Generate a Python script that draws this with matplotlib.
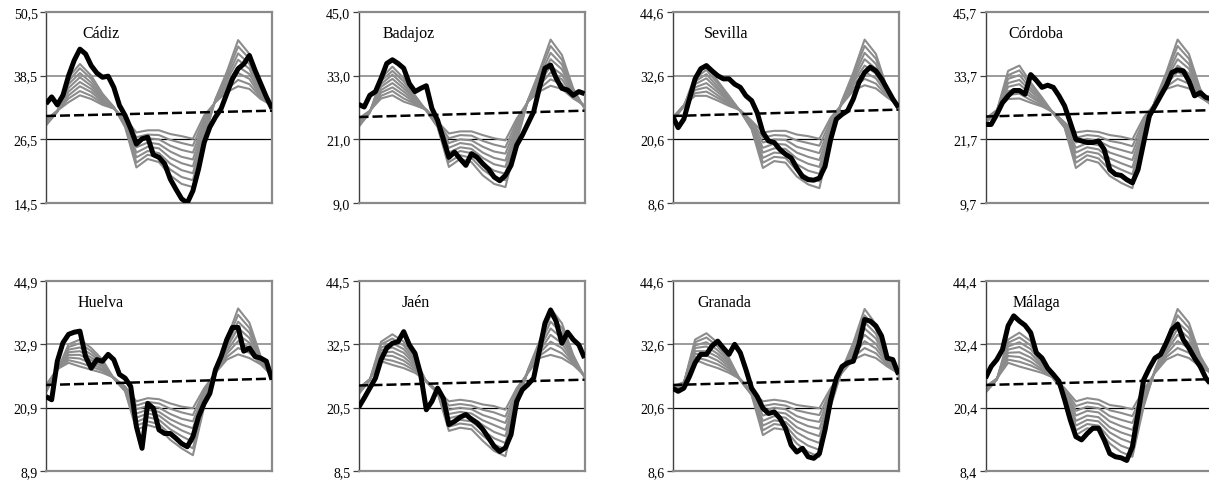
import numpy as np
import matplotlib
matplotlib.use("Agg")
from matplotlib import pyplot as plt

plt.rcParams['font.family'] = ['Liberation Serif', 'DejaVu Serif']

# panel names, in reading order
names = ['Cádiz', 'Badajoz', 'Sevilla', 'Córdoba', 'Huelva', 'Jaén', 'Granada', 'Málaga']

# y tick labels of each panel
cadiz_ticks = [14.5, 26.5, 38.5, 50.5]
badajoz_ticks = [9.0, 21.0, 33.0, 45.0]
sevilla_ticks = [8.6, 20.6, 32.6, 44.6]
cordoba_ticks = [9.7, 21.7, 33.7, 45.7]
huelva_ticks = [8.9, 20.9, 32.9, 44.9]
jaen_ticks = [8.5, 20.5, 32.5, 44.5]
granada_ticks = [8.6, 20.6, 32.6, 44.6]
malaga_ticks = [8.4, 20.4, 32.4, 44.4]

# observed series (thick black line), 41 points
cadiz_obs = [33.2, 34.5, 33.0, 34.8, 38.5, 41.4, 43.5, 42.6, 40.4, 39.0, 38.2, 38.4, 36.3, 32.9,
             31.0, 28.5, 25.6, 26.6, 26.9, 23.6, 23.1, 21.9, 19.0, 17.1, 15.3, 14.5, 16.8, 20.9,
             25.9, 28.8, 30.7, 32.3, 35.1, 37.9, 39.8, 40.7, 42.3, 39.5, 37.0, 34.5, 32.3]
badajoz_obs = [27.6, 27.1, 29.3, 30.0, 32.5, 35.3, 36.0, 35.3, 34.4, 31.5, 30.0, 30.6, 31.1, 26.8,
               24.6, 21.1, 17.6, 18.6, 17.3, 16.1, 18.3, 17.6, 16.4, 15.4, 13.9, 13.2, 14.2, 16.1,
               19.9, 21.8, 24.0, 26.2, 30.6, 34.4, 35.0, 32.5, 30.6, 30.3, 29.3, 30.0, 29.6]
sevilla_obs = [25.0, 22.8, 24.4, 28.2, 32.0, 33.9, 34.5, 33.5, 32.6, 32.0, 32.0, 31.0, 30.4, 28.8,
               27.9, 25.6, 21.9, 20.3, 20.0, 18.7, 17.8, 17.1, 15.2, 13.6, 13.0, 12.9, 13.3, 15.5,
               20.6, 24.4, 25.3, 26.0, 28.2, 31.3, 33.2, 34.2, 33.5, 32.0, 30.1, 28.2, 26.6]
cordoba_obs = [24.5, 24.5, 26.4, 28.6, 29.9, 30.9, 30.9, 30.2, 33.9, 32.8, 31.5, 31.9, 31.5, 29.9,
               28.0, 24.9, 21.7, 21.4, 21.1, 21.1, 21.4, 19.8, 16.0, 15.1, 14.9, 14.1, 13.5, 16.0,
               21.1, 26.1, 28.0, 29.9, 31.8, 34.3, 34.8, 34.6, 32.7, 29.9, 30.5, 29.6, 29.3]
huelva_obs = [23.0, 22.4, 29.7, 33.2, 34.8, 35.2, 35.4, 30.6, 28.4, 30.0, 29.7, 31.0, 30.0, 27.2,
              26.5, 24.9, 17.3, 13.2, 21.7, 20.8, 16.7, 16.0, 16.0, 15.1, 14.1, 13.5, 15.4, 19.2,
              21.7, 23.6, 28.1, 30.6, 33.8, 36.1, 36.1, 31.6, 32.2, 30.6, 30.3, 29.7, 26.2]
jaen_obs = [20.5, 22.3, 24.2, 26.1, 29.6, 31.8, 32.7, 33.0, 34.9, 32.4, 30.8, 26.8, 20.1, 21.7,
            24.2, 22.3, 17.3, 17.9, 18.7, 19.2, 18.3, 17.6, 16.4, 14.8, 13.2, 12.2, 12.9, 15.4,
            21.7, 23.9, 24.9, 26.1, 31.2, 36.5, 39.0, 36.8, 32.7, 34.8, 33.4, 32.4, 29.9]
granada_obs = [24.3, 23.7, 24.3, 26.5, 29.1, 30.7, 30.7, 32.3, 33.2, 31.9, 30.7, 32.6, 31.0, 27.8,
               24.3, 22.7, 20.5, 19.5, 19.8, 18.6, 16.7, 13.5, 12.2, 12.9, 11.3, 11.0, 11.9, 16.4,
               22.1, 26.2, 28.4, 29.1, 29.4, 32.6, 37.3, 37.0, 36.1, 34.2, 30.0, 29.7, 26.9]
malaga_obs = [26.0, 28.2, 29.5, 31.4, 35.9, 37.8, 36.8, 36.0, 34.6, 30.8, 29.8, 27.9, 26.7, 25.4,
              21.9, 18.1, 14.9, 14.3, 15.5, 16.5, 16.5, 14.3, 11.7, 11.1, 10.9, 10.4, 13.0, 19.3,
              25.7, 27.9, 29.8, 30.5, 32.7, 35.2, 36.2, 33.3, 31.7, 29.8, 28.2, 26.0, 24.7]

# linear trend (dashed), start and end values
cadiz_trend = [30.9, 31.9]
badajoz_trend = [25.2, 26.4]
sevilla_trend = [25.0, 26.2]
cordoba_trend = [26.0, 27.2]
huelva_trend = [25.2, 26.4]
jaen_trend = [24.7, 25.8]
granada_trend = [24.9, 26.1]
malaga_trend = [24.7, 25.8]

# grey family of curves: one row per time point (every 2nd step), 8 curves per row
cadiz_gray = [
    [30.2, 30.0, 29.9, 29.7, 29.6, 29.4, 29.3, 29.1],
    [31.9, 31.9, 31.8, 31.8, 31.8, 31.8, 31.7, 31.7],
    [33.5, 34.2, 34.8, 35.5, 36.2, 36.9, 37.5, 38.2],
    [34.8, 35.6, 36.5, 37.3, 38.2, 39.0, 39.9, 40.7],
    [34.1, 34.7, 35.4, 36.0, 36.6, 37.2, 37.9, 38.5],
    [33.0, 33.3, 33.6, 33.9, 34.2, 34.5, 34.8, 35.1],
    [32.3, 32.3, 32.4, 32.4, 32.5, 32.5, 32.6, 32.6],
    [30.4, 30.2, 29.9, 29.7, 29.5, 29.3, 29.0, 28.8],
    [27.8, 26.9, 25.9, 25.0, 24.0, 23.1, 22.1, 21.2],
    [28.2, 27.4, 26.7, 25.9, 25.1, 24.3, 23.6, 22.8],
    [28.2, 27.3, 26.5, 25.6, 24.8, 23.9, 23.1, 22.2],
    [27.5, 26.4, 25.3, 24.2, 23.0, 21.9, 20.8, 19.7],
    [27.1, 25.8, 24.5, 23.2, 22.0, 20.7, 19.4, 18.1],
    [26.6, 25.3, 24.0, 22.7, 21.4, 20.1, 18.8, 17.5],
    [31.0, 30.4, 29.7, 29.1, 28.5, 27.9, 27.2, 26.6],
    [33.5, 33.6, 33.7, 33.8, 33.8, 33.9, 34.0, 34.1],
    [35.4, 35.9, 36.5, 37.0, 37.6, 38.1, 38.7, 39.2],
    [36.5, 37.7, 39.0, 40.2, 41.5, 42.7, 44.0, 45.2],
    [36.0, 36.9, 37.9, 38.8, 39.8, 40.7, 41.7, 42.6],
    [34.1, 34.4, 34.6, 34.9, 35.2, 35.5, 35.7, 36.0],
    [32.9, 32.8, 32.7, 32.6, 32.6, 32.5, 32.4, 32.3],
]
badajoz_gray = [
    [24.9, 24.7, 24.4, 24.2, 24.0, 23.8, 23.5, 23.3],
    [26.4, 26.3, 26.3, 26.2, 26.2, 26.1, 26.1, 26.0],
    [28.7, 29.2, 29.8, 30.3, 30.9, 31.4, 32.0, 32.5],
    [29.3, 30.1, 30.8, 31.6, 32.4, 33.2, 33.9, 34.7],
    [28.1, 28.7, 29.4, 30.0, 30.6, 31.2, 31.9, 32.5],
    [27.4, 27.7, 27.9, 28.2, 28.5, 28.8, 29.0, 29.3],
    [26.6, 26.6, 26.5, 26.5, 26.5, 26.5, 26.4, 26.4],
    [24.3, 24.2, 24.0, 23.9, 23.7, 23.6, 23.4, 23.3],
    [22.1, 21.2, 20.3, 19.4, 18.5, 17.6, 16.7, 15.8],
    [22.5, 21.8, 21.0, 20.3, 19.5, 18.8, 18.0, 17.3],
    [22.5, 21.7, 20.8, 20.0, 19.2, 18.4, 17.5, 16.7],
    [21.8, 20.7, 19.6, 18.5, 17.5, 16.4, 15.3, 14.2],
    [21.2, 20.0, 18.7, 17.5, 16.3, 15.1, 13.8, 12.6],
    [20.8, 19.5, 18.3, 17.0, 15.8, 14.5, 13.3, 12.0],
    [24.9, 24.3, 23.6, 23.0, 22.4, 21.8, 21.1, 20.5],
    [28.1, 28.1, 28.2, 28.2, 28.3, 28.3, 28.4, 28.4],
    [30.0, 30.5, 31.1, 31.6, 32.2, 32.7, 33.3, 33.8],
    [31.1, 32.3, 33.6, 34.8, 36.1, 37.3, 38.6, 39.8],
    [30.5, 31.4, 32.3, 33.2, 34.2, 35.1, 36.0, 36.9],
    [28.7, 29.0, 29.2, 29.5, 29.8, 30.1, 30.3, 30.6],
    [27.4, 27.3, 27.2, 27.1, 27.1, 27.0, 26.9, 26.8],
]
sevilla_gray = [
    [24.7, 24.6, 24.5, 24.4, 24.4, 24.3, 24.2, 24.1],
    [27.0, 27.0, 26.9, 26.9, 26.9, 26.9, 26.8, 26.8],
    [28.8, 29.3, 29.9, 30.4, 31.0, 31.5, 32.1, 32.6],
    [28.8, 29.6, 30.4, 31.2, 32.1, 32.9, 33.7, 34.5],
    [27.9, 28.4, 28.9, 29.5, 30.0, 30.5, 31.1, 31.6],
    [26.9, 27.2, 27.4, 27.7, 28.0, 28.3, 28.5, 28.8],
    [26.1, 26.1, 26.0, 26.0, 26.0, 26.0, 25.9, 25.9],
    [24.1, 23.9, 23.6, 23.4, 23.2, 23.0, 22.7, 22.5],
    [21.9, 20.9, 20.0, 19.0, 18.1, 17.1, 16.2, 15.2],
    [22.2, 21.4, 20.6, 19.8, 18.9, 18.1, 17.3, 16.5],
    [22.2, 21.3, 20.5, 19.6, 18.8, 17.9, 17.1, 16.2],
    [21.5, 20.4, 19.2, 18.1, 17.0, 15.9, 14.7, 13.6],
    [21.2, 19.9, 18.6, 17.3, 16.0, 14.7, 13.4, 12.1],
    [20.7, 19.4, 18.0, 16.7, 15.4, 14.1, 12.7, 11.4],
    [24.7, 24.1, 23.5, 22.9, 22.4, 21.8, 21.2, 20.6],
    [27.2, 27.3, 27.4, 27.5, 27.6, 27.7, 27.8, 27.9],
    [29.8, 30.3, 30.8, 31.3, 31.7, 32.2, 32.7, 33.2],
    [30.8, 32.0, 33.3, 34.5, 35.7, 36.9, 38.2, 39.4],
    [30.2, 31.1, 32.1, 33.0, 33.9, 34.8, 35.8, 36.7],
    [28.5, 28.7, 29.0, 29.2, 29.4, 29.6, 29.9, 30.1],
    [27.1, 27.0, 27.0, 26.9, 26.8, 26.7, 26.7, 26.6],
]
cordoba_gray = [
    [25.6, 25.5, 25.3, 25.2, 25.1, 25.0, 24.8, 24.7],
    [27.2, 27.2, 27.1, 27.1, 27.1, 27.1, 27.0, 27.0],
    [29.3, 30.1, 30.8, 31.6, 32.3, 33.1, 33.8, 34.6],
    [29.4, 30.3, 31.2, 32.1, 32.9, 33.8, 34.7, 35.6],
    [28.6, 29.1, 29.7, 30.2, 30.8, 31.3, 31.9, 32.4],
    [27.9, 28.1, 28.4, 28.6, 28.9, 29.1, 29.4, 29.6],
    [26.8, 26.8, 26.7, 26.7, 26.7, 26.7, 26.6, 26.6],
    [24.9, 24.8, 24.6, 24.5, 24.3, 24.2, 24.0, 23.9],
    [23.0, 22.0, 21.1, 20.1, 19.2, 18.2, 17.3, 16.3],
    [23.3, 22.5, 21.8, 21.0, 20.2, 19.4, 18.7, 17.9],
    [23.1, 22.3, 21.4, 20.6, 19.8, 19.0, 18.1, 17.3],
    [22.5, 21.4, 20.3, 19.2, 18.1, 17.0, 15.9, 14.8],
    [22.2, 21.0, 19.7, 18.5, 17.2, 16.0, 14.7, 13.5],
    [21.7, 20.4, 19.1, 17.8, 16.4, 15.1, 13.8, 12.5],
    [25.8, 25.2, 24.6, 24.0, 23.5, 22.9, 22.3, 21.7],
    [28.5, 28.6, 28.6, 28.7, 28.8, 28.9, 28.9, 29.0],
    [31.2, 31.6, 32.1, 32.5, 33.0, 33.4, 33.9, 34.3],
    [31.9, 33.1, 34.4, 35.6, 36.8, 38.0, 39.3, 40.5],
    [31.3, 32.2, 33.2, 34.1, 35.0, 35.9, 36.9, 37.8],
    [29.6, 29.8, 30.1, 30.3, 30.5, 30.7, 31.0, 31.2],
    [28.3, 28.2, 28.2, 28.1, 28.1, 28.0, 28.0, 27.9],
]
huelva_gray = [
    [25.2, 25.0, 24.8, 24.6, 24.4, 24.2, 24.0, 23.8],
    [28.2, 28.2, 28.1, 28.1, 28.1, 28.1, 28.0, 28.0],
    [29.4, 29.9, 30.4, 30.9, 31.4, 31.9, 32.4, 32.9],
    [28.7, 29.4, 30.2, 30.9, 31.6, 32.3, 33.1, 33.8],
    [28.1, 28.7, 29.3, 29.9, 30.4, 31.0, 31.6, 32.2],
    [27.5, 27.9, 28.2, 28.6, 28.9, 29.3, 29.6, 30.0],
    [26.6, 26.6, 26.5, 26.5, 26.5, 26.5, 26.4, 26.4],
    [24.9, 24.8, 24.6, 24.5, 24.4, 24.3, 24.1, 24.0],
    [22.1, 21.3, 20.6, 19.8, 19.0, 18.2, 17.5, 16.7],
    [22.7, 22.0, 21.2, 20.5, 19.8, 19.1, 18.3, 17.6],
    [22.5, 21.7, 20.9, 20.1, 19.4, 18.6, 17.8, 17.0],
    [21.7, 20.7, 19.7, 18.7, 17.8, 16.8, 15.8, 14.8],
    [21.1, 20.0, 18.8, 17.7, 16.6, 15.5, 14.3, 13.2],
    [20.8, 19.5, 18.3, 17.0, 15.7, 14.4, 13.2, 11.9],
    [24.6, 24.1, 23.6, 23.1, 22.6, 22.1, 21.6, 21.1],
    [27.5, 27.6, 27.7, 27.8, 27.8, 27.9, 28.0, 28.1],
    [30.0, 30.5, 31.1, 31.6, 32.2, 32.7, 33.3, 33.8],
    [31.0, 32.2, 33.5, 34.7, 36.0, 37.2, 38.5, 39.7],
    [30.3, 31.3, 32.2, 33.2, 34.1, 35.1, 36.0, 37.0],
    [29.1, 29.3, 29.5, 29.7, 30.0, 30.2, 30.4, 30.6],
    [27.0, 26.9, 26.9, 26.8, 26.8, 26.7, 26.7, 26.6],
]
jaen_gray = [
    [24.2, 24.0, 23.9, 23.7, 23.5, 23.3, 23.2, 23.0],
    [25.9, 25.9, 25.8, 25.8, 25.8, 25.8, 25.7, 25.7],
    [29.3, 29.8, 30.4, 30.9, 31.4, 31.9, 32.5, 33.0],
    [28.6, 29.4, 30.3, 31.1, 31.9, 32.7, 33.6, 34.4],
    [28.0, 28.7, 29.4, 30.1, 30.9, 31.6, 32.3, 33.0],
    [27.1, 27.5, 27.9, 28.3, 28.7, 29.1, 29.5, 29.9],
    [25.6, 25.6, 25.5, 25.5, 25.5, 25.5, 25.4, 25.4],
    [23.6, 23.6, 23.5, 23.5, 23.4, 23.4, 23.3, 23.3],
    [21.7, 20.9, 20.1, 19.3, 18.5, 17.7, 16.9, 16.1],
    [22.0, 21.2, 20.5, 19.7, 19.0, 18.2, 17.5, 16.7],
    [21.7, 20.9, 20.2, 19.4, 18.7, 17.9, 17.2, 16.4],
    [21.1, 20.1, 19.1, 18.1, 17.2, 16.2, 15.2, 14.2],
    [20.8, 19.6, 18.4, 17.2, 15.9, 14.7, 13.5, 12.3],
    [20.1, 18.8, 17.6, 16.3, 15.1, 13.8, 12.6, 11.3],
    [24.2, 23.7, 23.1, 22.6, 22.1, 21.6, 21.0, 20.5],
    [27.1, 27.2, 27.3, 27.4, 27.4, 27.5, 27.6, 27.7],
    [29.9, 30.3, 30.8, 31.2, 31.7, 32.1, 32.6, 33.0],
    [30.5, 31.8, 33.0, 34.3, 35.5, 36.8, 38.0, 39.3],
    [29.9, 30.8, 31.8, 32.7, 33.7, 34.6, 35.6, 36.5],
    [28.6, 28.9, 29.1, 29.4, 29.7, 30.0, 30.2, 30.5],
    [26.6, 26.5, 26.5, 26.4, 26.4, 26.3, 26.3, 26.2],
]
granada_gray = [
    [24.6, 24.5, 24.3, 24.2, 24.1, 24.0, 23.8, 23.7],
    [25.4, 25.4, 25.3, 25.3, 25.3, 25.3, 25.2, 25.2],
    [29.7, 30.2, 30.8, 31.3, 31.9, 32.4, 33.0, 33.5],
    [28.8, 29.6, 30.5, 31.3, 32.2, 33.0, 33.9, 34.7],
    [28.1, 28.8, 29.5, 30.2, 30.8, 31.5, 32.2, 32.9],
    [27.2, 27.6, 28.0, 28.4, 28.8, 29.2, 29.6, 30.0],
    [26.0, 26.0, 25.9, 25.9, 25.9, 25.9, 25.8, 25.8],
    [23.7, 23.6, 23.5, 23.4, 23.3, 23.2, 23.1, 23.0],
    [21.8, 20.9, 20.0, 19.1, 18.1, 17.2, 16.3, 15.4],
    [22.1, 21.3, 20.6, 19.8, 19.0, 18.2, 17.5, 16.7],
    [21.8, 21.0, 20.3, 19.5, 18.7, 17.9, 17.2, 16.4],
    [21.1, 20.1, 19.0, 18.0, 16.9, 15.9, 14.8, 13.8],
    [20.8, 19.6, 18.3, 17.1, 15.9, 14.7, 13.4, 12.2],
    [20.5, 19.2, 17.9, 16.6, 15.2, 13.9, 12.6, 11.3],
    [24.3, 23.8, 23.3, 22.8, 22.3, 21.8, 21.3, 20.8],
    [27.2, 27.3, 27.4, 27.5, 27.5, 27.6, 27.7, 27.8],
    [29.7, 30.2, 30.6, 31.1, 31.5, 32.0, 32.4, 32.9],
    [30.7, 31.9, 33.2, 34.4, 35.6, 36.8, 38.1, 39.3],
    [30.0, 30.9, 31.8, 32.7, 33.7, 34.6, 35.5, 36.4],
    [28.4, 28.7, 29.0, 29.3, 29.5, 29.8, 30.1, 30.4],
    [27.1, 27.0, 27.0, 26.9, 26.9, 26.8, 26.8, 26.7],
]
malaga_gray = [
    [24.4, 24.2, 24.1, 23.9, 23.7, 23.5, 23.4, 23.2],
    [25.9, 25.9, 25.8, 25.8, 25.8, 25.8, 25.7, 25.7],
    [28.9, 29.5, 30.2, 30.8, 31.4, 32.0, 32.7, 33.3],
    [28.2, 29.1, 30.0, 30.9, 31.9, 32.8, 33.7, 34.6],
    [27.6, 28.4, 29.1, 29.9, 30.7, 31.5, 32.2, 33.0],
    [27.0, 27.4, 27.7, 28.1, 28.4, 28.8, 29.1, 29.5],
    [26.1, 26.1, 26.0, 26.0, 26.0, 26.0, 25.9, 25.9],
    [24.1, 24.0, 23.8, 23.7, 23.6, 23.5, 23.3, 23.2],
    [21.6, 20.7, 19.8, 18.9, 17.9, 17.0, 16.1, 15.2],
    [22.2, 21.4, 20.6, 19.8, 18.9, 18.1, 17.3, 16.5],
    [21.9, 21.1, 20.3, 19.5, 18.6, 17.8, 17.0, 16.2],
    [20.9, 19.9, 18.8, 17.8, 16.7, 15.7, 14.6, 13.6],
    [20.6, 19.4, 18.1, 16.9, 15.7, 14.5, 13.2, 12.0],
    [20.1, 18.8, 17.5, 16.2, 15.0, 13.7, 12.4, 11.1],
    [23.8, 23.3, 22.9, 22.4, 22.0, 21.5, 21.1, 20.6],
    [27.0, 27.1, 27.2, 27.3, 27.3, 27.4, 27.5, 27.6],
    [29.5, 30.0, 30.5, 31.0, 31.5, 32.0, 32.5, 33.0],
    [30.5, 31.7, 33.0, 34.2, 35.4, 36.6, 37.9, 39.1],
    [29.8, 30.8, 31.7, 32.7, 33.6, 34.6, 35.5, 36.5],
    [28.2, 28.5, 28.8, 29.1, 29.3, 29.6, 29.9, 30.2],
    [26.9, 26.8, 26.8, 26.7, 26.7, 26.6, 26.6, 26.5],
]

ticks_all = [cadiz_ticks, badajoz_ticks, sevilla_ticks, cordoba_ticks,
             huelva_ticks, jaen_ticks, granada_ticks, malaga_ticks]
obs_all = [cadiz_obs, badajoz_obs, sevilla_obs, cordoba_obs,
           huelva_obs, jaen_obs, granada_obs, malaga_obs]
trend_all = [cadiz_trend, badajoz_trend, sevilla_trend, cordoba_trend,
             huelva_trend, jaen_trend, granada_trend, malaga_trend]
gray_all = [cadiz_gray, badajoz_gray, sevilla_gray, cordoba_gray,
            huelva_gray, jaen_gray, granada_gray, malaga_gray]

W, H = 1209, 481
fig = plt.figure(figsize=(W / 100, H / 100), dpi=100)

# axes boxes in pixels: left, top, width, height
lefts = [46, 358.5, 672.5, 985.5]
row_tops = [13, 282]
row_heights = [191, 190]
label_x = [0.16, 0.105, 0.14, 0.10, 0.14, 0.19, 0.11, 0.12]

x_obs = np.arange(41)
x_gray = np.arange(0, 41, 2)

for n, name in enumerate(names):
    r, c = divmod(n, 4)
    top = row_tops[r]
    h = row_heights[r]
    ax = fig.add_axes([lefts[c] / W, 1 - (top + h) / H, 226 / W, h / H])
    ticks = ticks_all[n]

    # gridlines at the two middle ticks
    ax.axhline(ticks[1], color='black', lw=0.9, zorder=1)
    ax.axhline(ticks[2], color='#808080', lw=1.1, zorder=1)

    g = np.array(gray_all[n]).T
    for curve in g:
        ax.plot(x_gray, curve, color='#8c8c8c', lw=1.5, zorder=2)
    ax.plot([0, 40], trend_all[n], color='black', lw=1.8, dashes=(4, 1.6), zorder=3)
    ax.plot(x_obs, obs_all[n], color='black', lw=3.6, zorder=4,
            solid_joinstyle='round', solid_capstyle='butt')

    ax.set_xlim(0, 40)
    ax.set_ylim(ticks[0], ticks[-1])
    ax.set_xticks([])
    ax.set_yticks(ticks)
    ax.set_yticklabels([f'{v:.1f}'.replace('.', ',') for v in ticks])
    ax.tick_params(axis='y', length=4, width=0.9, color='#404040', pad=2, labelsize=10)
    for s in ['top', 'right', 'bottom']:
        ax.spines[s].set_color('#8a8a8a')
        ax.spines[s].set_linewidth(1.6)
    ax.spines['left'].set_color('#404040')
    ax.spines['left'].set_linewidth(1.0)
    ax.text(label_x[n], 0.89, name, transform=ax.transAxes, fontsize=11.5,
            ha='left', va='center')

fig.savefig('out.png', dpi=100)
